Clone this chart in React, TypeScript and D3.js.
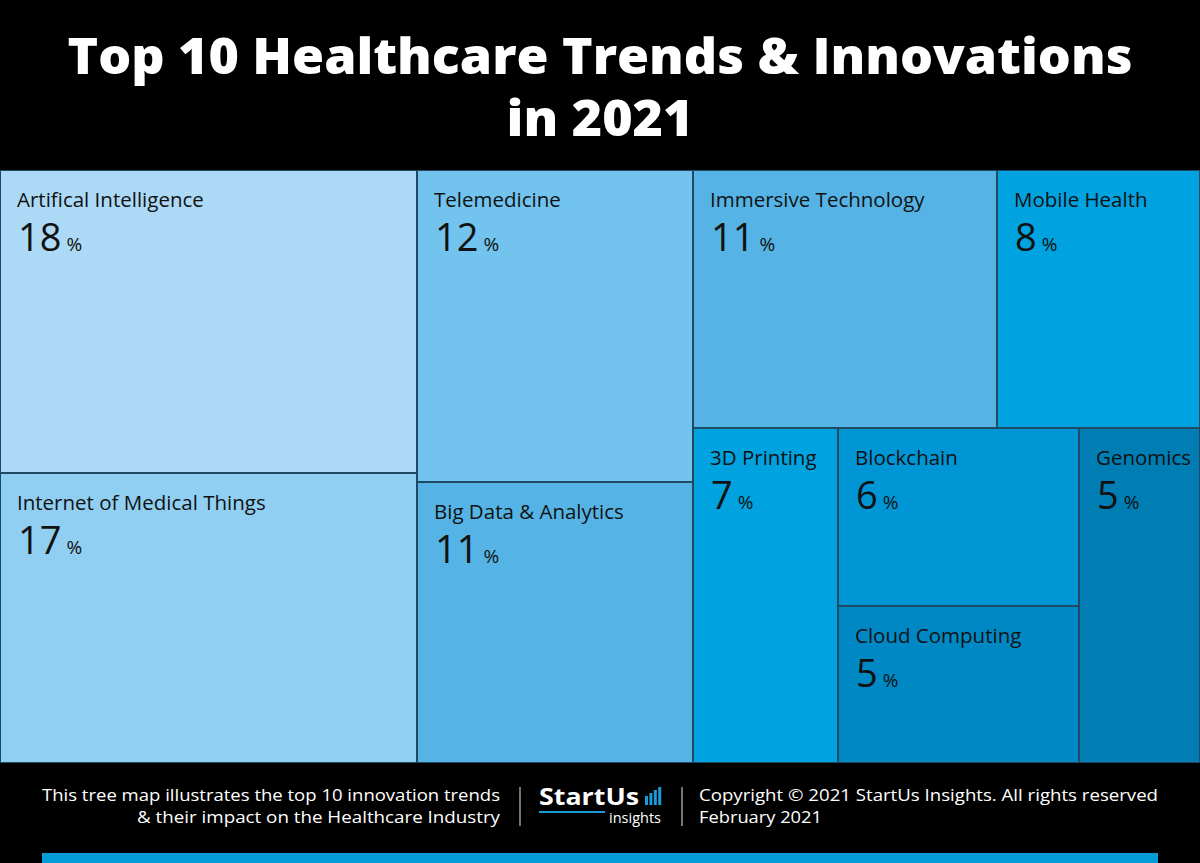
import React from "react";
import * as d3 from "d3";

// ---- data ----
const trendNames = [
  "Artifical Intelligence",
  "Internet of Medical Things",
  "Telemedicine",
  "Big Data & Analytics",
  "Immersive Technology",
  "Mobile Health",
  "3D Printing",
  "Blockchain",
  "Cloud Computing",
  "Genomics",
];
// displayed percentages
const percentLabels = [18, 17, 12, 11, 11, 8, 7, 6, 5, 5];
// tile area shares as drawn in the reference (%)
const tileShares = [17.76, 16.99, 12.1, 10.9, 11.02, 7.36, 6.83, 6.03, 5.32, 5.7];
const tileColors = [
  "#acd9f6",
  "#90cff2",
  "#72c4ee",
  "#55b4e5",
  "#55b4e5",
  "#00a3df",
  "#00a3df",
  "#0096d6",
  "#0088c5",
  "#007db3",
];
// nesting of tiles (indices into the arrays above)
const layoutGroups: any = [
  [0, 1],
  [2, 3],
  [
    [4, 5],
    [6, [7, 8], 9],
  ],
];

const titleLines = ["Top 10 Healthcare Trends & Innovations", "in 2021"];
const footerLeft = [
  "This tree map illustrates the top 10 innovation trends",
  "& their impact on the Healthcare Industry",
];
const footerRight = ["Copyright © 2021 StartUs Insights. All rights reserved", "February 2021"];
const logoBars = [9, 12, 15, 18];

const W = 1200;
const H = 863;
const MAP_TOP = 170;
const MAP_BOTTOM = 763;

function build(node: any): any {
  if (typeof node === "number") return { idx: node };
  return { children: node.map(build) };
}

export default function App() {
  const root = d3
    .hierarchy(build(layoutGroups))
    .sum((d: any) => (d.children ? 0 : tileShares[d.idx]));
  d3.treemap().tile(d3.treemapSliceDice).size([W, MAP_BOTTOM - MAP_TOP]).round(true)(root as any);
  const leaves = root.leaves() as any[];

  const font = "'Open Sans', 'Noto Sans', sans-serif";
  const barScale = d3.scaleLinear().domain([0, 18]).range([0, 18]);

  return (
    <svg
      width={W}
      height={H}
      style={{ position: "absolute", left: 0, top: 0, display: "block" }}
      fontFamily={font}
    >
      <rect x={0} y={0} width={W} height={H} fill="#000" />
      {titleLines.map((t, i) => (
        <text
          key={t}
          x={W / 2}
          y={i === 0 ? 74 : 136}
          textAnchor="middle"
          fill="#fff"
          fontSize={50}
          fontWeight={800}
          textLength={i === 0 ? 1065 : 187}
          lengthAdjust="spacingAndGlyphs"
        >
          {t}
        </text>
      ))}
      <g transform={`translate(0,${MAP_TOP})`}>
        {leaves.map((l) => {
          const i = l.data.idx;
          return (
            <g key={i}>
              <rect
                x={l.x0 + 0.5}
                y={l.y0 + 0.5}
                width={l.x1 - l.x0 - 1}
                height={l.y1 - l.y0 - 1}
                fill={tileColors[i]}
                stroke="#1f4a63"
                strokeWidth={1}
              />
              <text x={l.x0 + 17} y={l.y0 + 37} fontSize={20.5} fill="#111">
                {trendNames[i]}
              </text>
              <text x={l.x0 + 18} y={l.y0 + 81} fill="#111">
                <tspan fontSize={38} fontWeight={400}>{percentLabels[i]}</tspan>
                <tspan fontSize={19} dx={5}>%</tspan>
              </text>
            </g>
          );
        })}
      </g>
      {/* footer */}
      {footerLeft.map((t, i) => (
        <text
          key={t}
          x={500}
          y={i === 0 ? 801 : 823}
          textAnchor="end"
          fill="#fff"
          fontSize={17}
          textLength={i === 0 ? 458 : 363}
          lengthAdjust="spacingAndGlyphs"
        >
          {t}
        </text>
      ))}
      {footerRight.map((t, i) => (
        <text
          key={t}
          x={699}
          y={i === 0 ? 801 : 823}
          fill="#fff"
          fontSize={17}
          textLength={i === 0 ? 459 : 123}
          lengthAdjust="spacingAndGlyphs"
        >
          {t}
        </text>
      ))}
      <line x1={520} x2={520} y1={787} y2={826} stroke="#9a9a9a" strokeWidth={1.5} />
      <line x1={682} x2={682} y1={787} y2={826} stroke="#9a9a9a" strokeWidth={1.5} />
      <text
        x={539}
        y={805}
        fill="#fff"
        fontSize={24}
        fontWeight={700}
        textLength={100}
        lengthAdjust="spacingAndGlyphs"
      >
        StartUs
      </text>
      {logoBars.map((h, i) => (
        <rect key={i} x={645 + i * 4.4} y={805 - barScale(h)} width={3} height={barScale(h)} fill="#1a9ad6" />
      ))}
      <rect x={539} y={811} width={66} height={2} fill="#1a9ad6" />
      <text
        x={609}
        y={823}
        fill="#fff"
        fontSize={14}
        textLength={52}
        lengthAdjust="spacingAndGlyphs"
      >
        insights
      </text>
      <rect x={42} y={853} width={1116} height={10} fill="#039bd8" />
    </svg>
  );
}
